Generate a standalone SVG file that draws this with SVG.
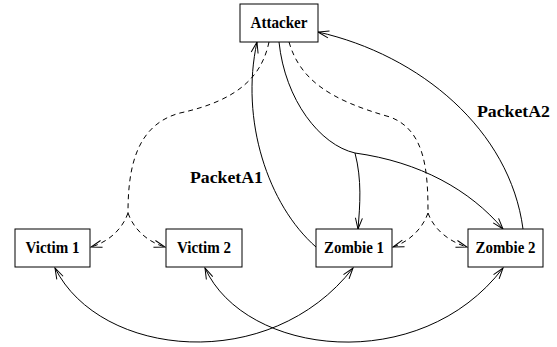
<svg xmlns="http://www.w3.org/2000/svg" width="557" height="347" viewBox="0 0 557 347">
<style>
.box{fill:#fff;stroke:#000;stroke-width:1}
.lbl{font-family:"Liberation Serif","Times New Roman",serif;font-weight:bold;font-size:16px;fill:#000}
.c{fill:none;stroke:#000;stroke-width:1}
.d{stroke-dasharray:5 4}
.a{marker-end:url(#ah)}
.b{marker-start:url(#ah);marker-end:url(#ah)}
</style>
<defs>
<marker id="ah" markerUnits="userSpaceOnUse" markerWidth="14" markerHeight="10" viewBox="-12 -5 14 10" refX="0" refY="0" orient="auto-start-reverse">
<path d="M -11 -3.5 L 0 0 L -11 3.5" fill="none" stroke="#000" stroke-width="1"/>
</marker>
</defs>
<g id="connectors">
<path class="c a" d="M 316 247 C 268 205, 240 120, 257 42"/>
<path class="c" d="M 279 42 C 285 100, 320 145, 355 153"/>
<path class="c a" d="M 355 153 C 362 180, 360 205, 358 229"/>
<path class="c a" d="M 355 153 C 420 162, 470 190, 503 229"/>
<path class="c a" d="M 523 229 C 510 130, 420 55, 318 32"/>
<path class="c d" d="M 269 42 C 262 75, 240 100, 180 113 C 135 125, 128 170, 128 213"/>
<path class="c d a" d="M 128 213 C 122 230, 108 242, 91 247"/>
<path class="c d a" d="M 128 213 C 134 230, 148 242, 165 247"/>
<path class="c d" d="M 289 42 C 300 80, 330 100, 390 117 C 425 130, 428 170, 428 213"/>
<path class="c d a" d="M 428 213 C 422 230, 408 242, 393 247"/>
<path class="c d a" d="M 428 213 C 434 230, 450 242, 467 247"/>
<path class="c b" d="M 55 268 C 100 358, 270 375, 353 268"/>
<path class="c b" d="M 205 268 C 245 356, 420 377, 503 268"/>
</g>
<g id="attacker"><rect class="box" x="240" y="4" width="78" height="38"/><text class="lbl" x="279" y="28" text-anchor="middle" textLength="57" lengthAdjust="spacingAndGlyphs">Attacker</text></g>
<g id="victim1"><rect class="box" x="15" y="229" width="75" height="38"/><text class="lbl" x="52.5" y="253" text-anchor="middle" textLength="54" lengthAdjust="spacingAndGlyphs">Victim 1</text></g>
<g id="victim2"><rect class="box" x="166" y="229" width="76" height="38"/><text class="lbl" x="204" y="253" text-anchor="middle" textLength="54" lengthAdjust="spacingAndGlyphs">Victim 2</text></g>
<g id="zombie1"><rect class="box" x="316" y="229" width="76" height="38"/><text class="lbl" x="354" y="253" text-anchor="middle" textLength="60" lengthAdjust="spacingAndGlyphs">Zombie 1</text></g>
<g id="zombie2"><rect class="box" x="468" y="229" width="75" height="38"/><text class="lbl" x="505.5" y="253" text-anchor="middle" textLength="60" lengthAdjust="spacingAndGlyphs">Zombie 2</text></g>
<g id="labels">
<text class="lbl" x="190" y="183" textLength="73" lengthAdjust="spacingAndGlyphs">PacketA1</text>
<text class="lbl" x="477" y="117" textLength="73" lengthAdjust="spacingAndGlyphs">PacketA2</text>
</g>
</svg>
